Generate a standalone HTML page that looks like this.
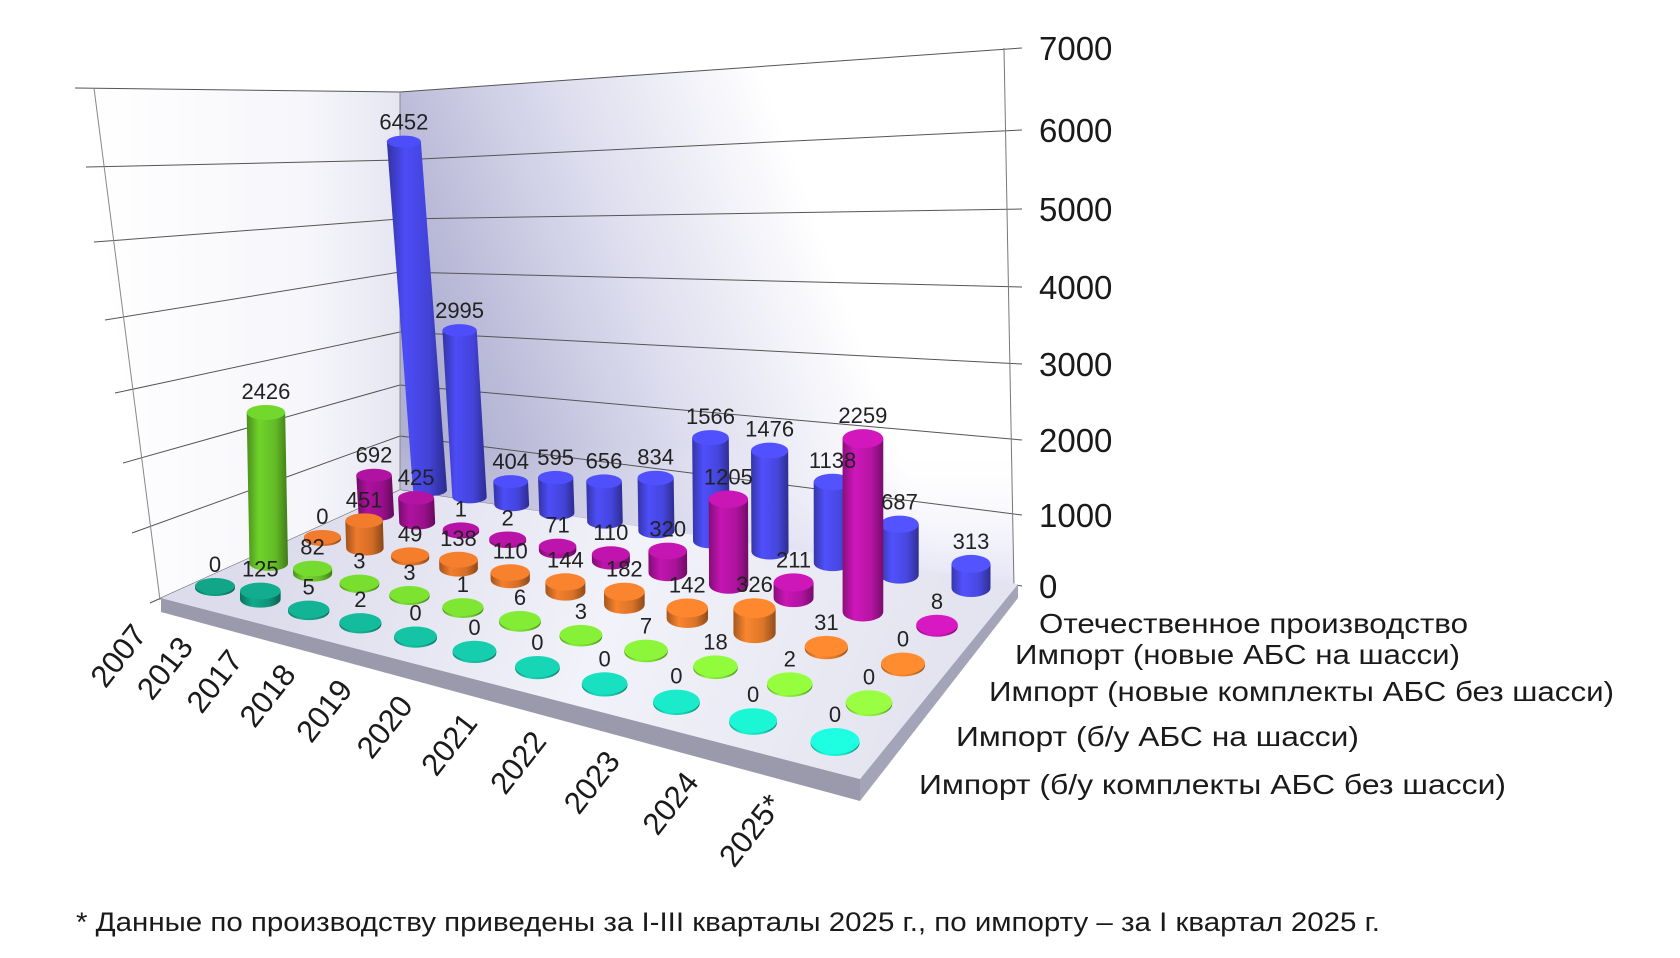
<!DOCTYPE html>
<html><head><meta charset="utf-8"><style>
html,body{margin:0;padding:0;background:#fff;}
svg{display:block;font-family:"Liberation Sans","DejaVu Sans",sans-serif;}
</style></head><body>
<svg id="chart" width="1680" height="958" viewBox="0 0 1680 958" xmlns="http://www.w3.org/2000/svg">
<defs>
<linearGradient id="backWall" x1="400" y1="260" x2="780" y2="120" gradientUnits="userSpaceOnUse">
<stop offset="0" stop-color="#b0b0d2"/><stop offset="0.5" stop-color="#dcdcee"/><stop offset="1" stop-color="#ffffff"/></linearGradient>
<linearGradient id="backWall2" x1="0" y1="0" x2="0" y2="1">
<stop offset="0.5" stop-color="#ffffff" stop-opacity="0"/><stop offset="1" stop-color="#cfcfee" stop-opacity="0.6"/></linearGradient>
<linearGradient id="leftWall" x1="90" y1="300" x2="400" y2="300" gradientUnits="userSpaceOnUse">
<stop offset="0" stop-color="#ffffff"/><stop offset="0.7" stop-color="#f6f6fb"/><stop offset="1" stop-color="#e6e6f2"/></linearGradient>
<linearGradient id="floorG" x1="300" y1="520" x2="900" y2="760" gradientUnits="userSpaceOnUse">
<stop offset="0" stop-color="#dcdcec"/><stop offset="0.5" stop-color="#f2f2fa"/><stop offset="1" stop-color="#e4e4f0"/></linearGradient>
</defs>
<g id="walls">
<polygon points="81,88 400,92 400,490 160,604" fill="url(#leftWall)"/>
<polygon points="400,92 1004,48 1014,588 400,490" fill="url(#backWall)"/>
<polygon points="400,300 1010,300 1014,588 400,490" fill="url(#backWall2)"/>
</g>
<g id="grid"></g>
<g id="floor">
<polygon points="161,598 860,779 860,801 161,612" fill="#9a9aac"/>
<polygon points="860,779 1018,584 1018,598 860,801" fill="#a4a4b8"/>
<polygon points="161,598 400,490 1018,584 860,779" fill="url(#floorG)"/>
</g>
<g id="bars"></g>
<g id="labels"></g>
<g id="ticks"></g>
<g id="years"></g>
<g id="legend" font-size="28" fill="#1a1a1a">
<text x="1039" y="633" textLength="429" lengthAdjust="spacingAndGlyphs">Отечественное производство</text>
<text x="1015" y="664" textLength="445" lengthAdjust="spacingAndGlyphs">Импорт (новые АБС на шасси)</text>
<text x="989" y="701" textLength="625" lengthAdjust="spacingAndGlyphs">Импорт (новые комплекты АБС без шасси)</text>
<text x="956" y="746" textLength="403" lengthAdjust="spacingAndGlyphs">Импорт (б/у АБС на шасси)</text>
<text x="919" y="794" textLength="587" lengthAdjust="spacingAndGlyphs">Импорт (б/у комплекты АБС без шасси)</text>
</g>
<text x="76" y="931" font-size="27" fill="#1a1a1a" textLength="1304" lengthAdjust="spacingAndGlyphs">* Данные по производству приведены за I-III кварталы 2025 г., по импорту – за I квартал 2025 г.</text>
</svg>
<script>
const years = ['2007','2013','2017','2018','2019','2020','2021','2022','2023','2024','2025*'];
const domestic = [6452,2995,404,595,656,834,1566,1476,1138,687,313];
const newChassis = [692,425,1,2,71,110,320,1205,211,2259,8];
const newKits = [0,451,49,138,110,144,182,142,326,31,0];
const usedChassis = [2426,82,3,3,1,6,3,7,18,2,0];
const usedKits = [0,125,5,2,0,0,0,0,0,0,0];
const yTicks = [0,1000,2000,3000,4000,5000,6000,7000];

const NS = 'http://www.w3.org/2000/svg';
function mk(tag, attrs, parent){const e=document.createElementNS(NS,tag);for(const k in attrs)e.setAttribute(k,attrs[k]);if(parent)parent.appendChild(e);return e;}
function lerp(a,b,t){return a+(b-a)*t;}

const F0=[215,588],F1=[835,743],B0=[430,490],B1=[971,588];
const R=1.068;
function uPos(i){return (Math.pow(R,i)-1)/(Math.pow(R,years.length-1)-1);}
function cell(u,v){
  const fx=lerp(F0[0],F1[0],u), fy=lerp(F0[1],F1[1],u);
  const bx=lerp(B0[0],B1[0],u), by=lerp(B0[1],B1[1],u);
  return [lerp(fx,bx,v), lerp(fy,by,v)];
}
function scaleY(val,u,v){return val*(54+23*u+11*(1-v))/1000;}

const rightY=[586,515,440,364,287,209,130,48];
const cornerY=[490,436,385,332,272,219,160,92];
const leftPts=[[156,603],[138,533],[129,463],[121,393],[111,320],[100,242],[92,167],[81,88]];
const grid=document.getElementById('grid');
const tk=document.getElementById('ticks');
yTicks.forEach((t,k)=>{
  const l=mk('line',{x1:400,y1:cornerY[k],x2:1022,y2:rightY[k],stroke:'#555',"stroke-width":1},grid);
  
  
  const l2=mk('line',{x1:leftPts[k][0]-6,y1:leftPts[k][1],x2:400,y2:cornerY[k],stroke:'#555',"stroke-width":1},grid);
  
  
  const tx=mk('text',{x:1039,y:rightY[k]+12,"font-size":33,fill:'#1a1a1a'},tk);
  tx.textContent=t;
  
  
});
const al=mk('line',{x1:1004,y1:48,x2:1014,y2:588,stroke:'#777',"stroke-width":1},grid);


const cl=mk('line',{x1:400,y1:92,x2:400,y2:490,stroke:'#888',"stroke-width":1},grid);


const ll=mk('line',{x1:94,y1:88,x2:160,y2:600,stroke:'#888',"stroke-width":1},grid);



const series=[
  {key:'domestic',vals:domestic,v:1,c0:[70,70,228],c1:[76,76,236]},
  {key:'new-chassis',vals:newChassis,v:0.75,c0:[160,16,146],c1:[196,22,176]},
  {key:'new-kits',vals:newKits,v:0.5,c0:[220,112,40],c1:[236,128,44]},
  {key:'used-chassis',vals:usedChassis,v:0.25,c0:[104,196,40],c1:[140,240,60]},
  {key:'used-kits',vals:usedKits,v:0,c0:[16,150,124],c1:[26,236,204]}
];
const defs=document.querySelector('defs');
const bars=document.getElementById('bars');
const labs=document.getElementById('labels');
function rgb(c,f){return 'rgb('+c.map(x=>Math.max(0,Math.min(255,Math.round(x*f)))).join(',')+')';}
let gid=0;
series.forEach(s=>{
  s.vals.forEach((val,i)=>{
    const u=uPos(i), v=s.v;
    const [cx,cy]=cell(u,v);
    const rx=17+3*(1-v)+2.5*u+2*u*(1-v);
    const ry=6+3*u+2*(1-v)+2*u*(1-v);
    const h=Math.max(2,scaleY(val,u,v));
    const lean=-h*0.075*Math.pow(1-u,3)*v;
    const col=[0,1,2].map(k=>lerp(s.c0[k],s.c1[k],u));
    const id='g'+(gid++);
    const g=mk('linearGradient',{id:id,x1:0,y1:0,x2:1,y2:0},defs);
    mk('stop',{offset:0,"stop-color":rgb(col,0.72)},g);
    mk('stop',{offset:0.3,"stop-color":rgb(col,1.08)},g);
    mk('stop',{offset:0.7,"stop-color":rgb(col,0.95)},g);
    mk('stop',{offset:1,"stop-color":rgb(col,0.62)},g);
    const grp=mk('g',{},bars);
    
    
    const top=cy-h, tx=cx+lean;
    mk('path',{d:`M${tx-rx},${top} L${cx-rx},${cy} A${rx},${ry} 0 0 0 ${cx+rx},${cy} L${tx+rx},${top} Z`,fill:'url(#'+id+')'},grp);
    mk('ellipse',{cx:tx,cy:top,rx:rx,ry:ry,fill:rgb(col,1.1)},grp);
    const t=mk('text',{x:tx,y:top-ry-6,"font-size":22,fill:'#222',"text-anchor":'middle'},labs);
    t.textContent=val;
    
    
  });
});

const yl=document.getElementById('years');
years.forEach((y,i)=>{
  const u=uPos(i);
  const [fx,fy]=cell(u,0);
  const ex=fx-67+16*u, ey=fy+47+15*u;
  const t=mk('text',{x:ex,y:ey,"font-size":31,fill:'#1a1a1a',"text-anchor":'end',transform:`rotate(-52 ${ex} ${ey})`},yl);
  t.textContent=y;
  
  
});
</script>
</body></html>
